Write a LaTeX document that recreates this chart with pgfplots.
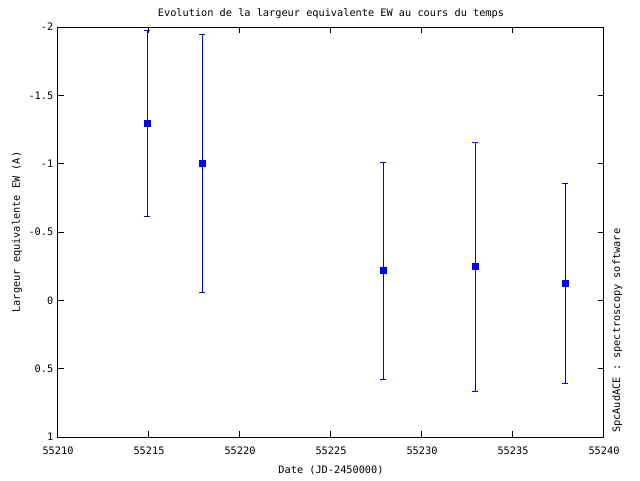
\documentclass[border=0pt]{standalone}
\usepackage{pgfplots}
\pgfplotsset{compat=1.18}
\usepackage{fontspec}
\setmainfont{DejaVu Sans Mono}
\begin{document}
\begin{tikzpicture}
\useasboundingbox (-43.5pt,-32.25pt) rectangle (436.5pt,327.75pt);
\begin{axis}[
  at={(0,0)}, anchor=south west,
  scale only axis, width=409.5pt, height=307.5pt,
  xmin=55210, xmax=55240, ymin=-2, ymax=1,
  y dir=reverse,
  xtick={55210,55215,55220,55225,55230,55235,55240},
  xticklabels={55210,55215,55220,55225,55230,55235,55240},
  ytick={-2,-1.5,-1,-0.5,0,0.5,1},
  yticklabels={-2,-1.5,-1,-0.5,0,0.5,1},
  scaled x ticks=false, scaled y ticks=false,
  tick align=inside, major tick length=4.5pt,
  tick style={black, line width=0.75pt},
  axis line style={line width=0.75pt},
  font=\fontsize{7.7}{9}\selectfont,
  ticklabel style={font=\fontsize{7.7}{9}\selectfont},
  xticklabel style={yshift=-4pt},
  title={Evolution de la largeur equivalente EW au cours du temps},
  title style={yshift=-3pt},
  xlabel={Date (JD-2450000)},
  ylabel={Largeur equivalente EW (A)},
  xlabel style={yshift=-1.5pt},
  ylabel style={yshift=-2pt},
  clip=false,
]
\addplot[blue, line width=0.75pt, only marks, mark=square*, mark size=2.2pt,
  error bars/.cd, y dir=both, y explicit,
  error bar style={blue, line width=0.75pt},
  error mark options={rotate=90, mark size=2.2pt, blue, line width=0.75pt}]
  coordinates {
    (55214.91,-1.293) +- (0,0.683)
    (55217.93,-1.004) +- (0,0.943)
    (55227.87,-0.217) +- (0,0.793)
    (55232.93,-0.246) +- (0,0.912)
    (55237.87,-0.125) +- (0,0.731)
  };
\node[xshift=6pt, yshift=3pt, rotate=90, anchor=north west, font=\fontsize{7.7}{9}\selectfont, inner sep=0pt]
  at (rel axis cs:1,0) {SpcAudACE : spectroscopy software};
\end{axis}
\end{tikzpicture}
\end{document}
